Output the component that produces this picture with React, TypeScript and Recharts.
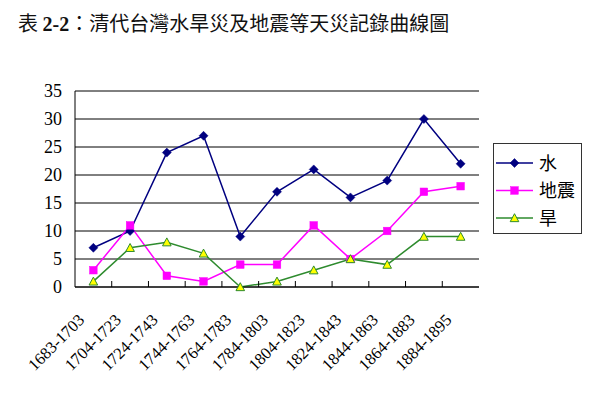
import React from 'react';
import { LineChart, Line, XAxis, YAxis, CartesianGrid } from 'recharts';

const periods = ['1683-1703', '1704-1723', '1724-1743', '1744-1763', '1764-1783', '1784-1803', '1804-1823', '1824-1843', '1844-1863', '1864-1883', '1884-1895'];
const flood = [7, 10, 24, 27, 9, 17, 21, 16, 19, 30, 22];
const quake = [3, 11, 2, 1, 4, 4, 11, 5, 10, 17, 18];
const drought = [1, 7, 8, 6, 0, 1, 3, 5, 4, 9, 9];
const yTicks = [0, 5, 10, 15, 20, 25, 30, 35];

const seriesNames = { flood: '水', quake: '地震', drought: '旱' };

const data = periods.map((p, i) => ({ period: p, flood: flood[i], quake: quake[i], drought: drought[i] }));

const NAVY = '#000080';
const MAGENTA = '#FF00FF';
const GREEN = '#2E8B2E';
const YELLOW = '#FFFF00';
const SERIF = "'Liberation Serif', 'DejaVu Serif', serif";

const Diamond = (props: any) => {
  const { cx, cy } = props;
  if (cx == null || cy == null) return <g />;
  const r = 4.5;
  return <path d={`M${cx},${cy - r}L${cx + r},${cy}L${cx},${cy + r}L${cx - r},${cy}Z`} fill={NAVY} stroke={NAVY} strokeWidth={0.5} />;
};
const Square = (props: any) => {
  const { cx, cy } = props;
  if (cx == null || cy == null) return <g />;
  const s = 3.8;
  return <rect x={cx - s} y={cy - s} width={2 * s} height={2 * s} fill={MAGENTA} stroke={MAGENTA} strokeWidth={0.5} />;
};
const Triangle = (props: any) => {
  const { cx, cy } = props;
  if (cx == null || cy == null) return <g />;
  const r = 4.3;
  return <path d={`M${cx},${cy - r}L${cx + r},${cy + r * 0.85}L${cx - r},${cy + r * 0.85}Z`} fill={YELLOW} stroke={GREEN} strokeWidth={1} />;
};

const XTick = (props: any) => {
  const { x, y, payload, index, visibleTicksCount, width } = props;
  const half = payload && payload.offset ? payload.offset : (width / visibleTicksCount) / 2;
  const bx = x + half;
  const tx = x - 8;
  const ty = y + 34;
  return (
    <g>
      {index < visibleTicksCount - 1 && <line x1={bx} y1={y} x2={bx} y2={y - 6} stroke="#000" strokeWidth={1} />}
      <text x={tx} y={ty} transform={`rotate(-45, ${tx}, ${ty})`} textAnchor="end" fontFamily={SERIF} fontSize={16.5} fill="#000">
        {payload.value}
      </text>
    </g>
  );
};

const LegendBox = () => {
  const items = [
    { name: seriesNames.flood, color: NAVY, Mk: Diamond },
    { name: seriesNames.quake, color: MAGENTA, Mk: Square },
    { name: seriesNames.drought, color: GREEN, Mk: Triangle },
  ];
  return (
    <svg width={89} height={91} style={{ display: 'block' }}>
      <rect x={0.5} y={0.5} width={88} height={90} fill="#fff" stroke="#333" strokeWidth={1} />
      {items.map((it, i) => {
        const cy = 20 + i * 27.5;
        return (
          <g key={it.name}>
            <line x1={3} x2={40} y1={cy} y2={cy} stroke={it.color} strokeWidth={1.5} />
            <it.Mk cx={21.5} cy={cy} />
            <text x={46} y={cy + 6.5} style={{ fontFamily: "'Noto Sans CJK TC', sans-serif", fontSize: 18 }} fill="#000">{it.name}</text>
          </g>
        );
      })}
    </svg>
  );
};

export default function App() {
  return (
    <div style={{ position: 'absolute', left: 0, top: 0, width: 600, height: 397, background: '#fff' }}>
      <div style={{ position: 'absolute', left: 18, top: 10, fontSize: 20, fontFamily: "'Noto Sans CJK TC', sans-serif", color: '#111', whiteSpace: 'nowrap', lineHeight: '26px' }}>
        表 <span style={{ fontFamily: SERIF, fontWeight: 'bold' }}>2-2</span>：清代台灣水旱災及地震等天災記錄曲線圖
      </div>
      <div style={{ position: 'absolute', left: 0, top: 0 }}>
        <LineChart width={600} height={397} data={data} margin={{ top: 91, right: 121, bottom: 10, left: 0 }}>
          <CartesianGrid vertical={false} stroke="#000" strokeWidth={1} />
          <XAxis dataKey="period" scale="band" interval={0} height={100} tickSize={0} tickMargin={0} tickLine={false} axisLine={{ stroke: '#000' }} tick={<XTick />} />
          <YAxis domain={[0, 35]} ticks={yTicks} interval={0} width={75} tickLine={false} tickSize={0} tickMargin={13} axisLine={{ stroke: '#000' }} tick={{ fill: '#000', fontSize: 18, fontFamily: SERIF }} />
          <YAxis yAxisId="r" orientation="right" width={0} tick={false} tickLine={false} axisLine={{ stroke: '#888' }} />
          <Line dataKey="flood" name={seriesNames.flood} stroke={NAVY} strokeWidth={1.5} dot={<Diamond />} activeDot={false} isAnimationActive={false} />
          <Line dataKey="quake" name={seriesNames.quake} stroke={MAGENTA} strokeWidth={1.5} dot={<Square />} activeDot={false} isAnimationActive={false} />
          <Line dataKey="drought" name={seriesNames.drought} stroke={GREEN} strokeWidth={1.5} dot={<Triangle />} activeDot={false} isAnimationActive={false} />
        </LineChart>
      </div>
      <div style={{ position: 'absolute', left: 493, top: 143 }}>
        <LegendBox />
      </div>
    </div>
  );
}
